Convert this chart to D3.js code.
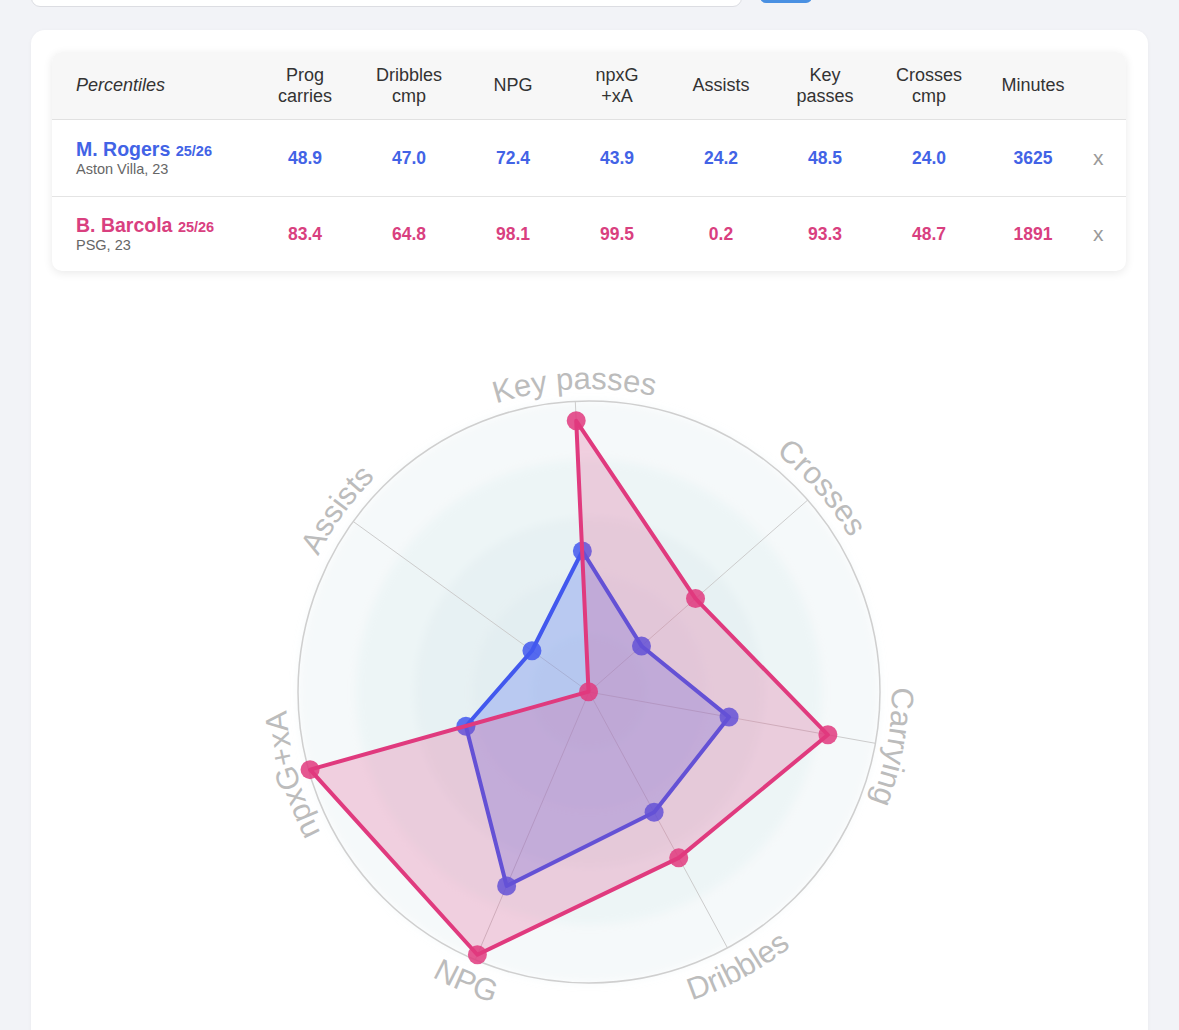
<!DOCTYPE html>
<html>
<head>
<meta charset="utf-8">
<script src="https://cdn.jsdelivr.net/npm/d3@7"></script>
<style>
  body { margin: 0; width: 1179px; height: 1030px; overflow: hidden; position: relative;
         background: #f2f3f7; font-family: "Liberation Sans", Arial, Helvetica, sans-serif; }
  .search { position: absolute; left: 31px; top: -40px; width: 709px; height: 45px; background: #fff;
            border: 1px solid #dcdde2; border-radius: 9px; }
  .btn { position: absolute; left: 760px; top: -30px; width: 52px; height: 33px; background: #4a90e2; border-radius: 6px; }
  .card { position: absolute; left: 31px; top: 30px; width: 1117px; height: 1100px; background: #fff;
          border-radius: 14px; box-shadow: 0 1px 4px rgba(0,0,0,.04); }
  .tbl { position: absolute; left: 52px; top: 52px; width: 1074px; height: 219px; background: #fff;
         border-radius: 10px; box-shadow: 0 2px 10px rgba(0,0,0,.09); overflow: hidden; }
  .row { position: absolute; left: 0; width: 1074px; display: flex; align-items: center; box-sizing: border-box; }
  .head { top: 0; height: 68px; background: #f7f7f7; border-bottom: 1px solid #e1e1e1; color: #333; font-size: 18px; }
  .cell { width: 104px; text-align: center; line-height: 21px; }
  .first { width: 201px; padding-left: 24px; box-sizing: border-box; }
  .xcell { width: 41px; padding-left: 8px; box-sizing: border-box; color: #9a9a9a; font-size: 21px; }
  .val { font-weight: bold; font-size: 17.5px; }
  .name { font-weight: bold; font-size: 19.5px; line-height: 20px; }
  .name span { font-size: 14.5px; }
  .sub { color: #666; font-size: 14.5px; line-height: 16px; }
  svg { position: absolute; left: 0; top: 0; }
</style>
</head>
<body>
<div class="search"></div>
<div class="btn"></div>
<div class="card"></div>
<div class="tbl" id="tbl"></div>
<svg id="radar" width="1179" height="1030"></svg>
<script>
// table data
const headerLines = [["Prog", "carries"], ["Dribbles", "cmp"], ["NPG"], ["npxG", "+xA"], ["Assists"], ["Key", "passes"], ["Crosses", "cmp"], ["Minutes"]];
const players = ["M. Rogers", "B. Barcola"];
const seasons = ["25/26", "25/26"];
const clubs = ["Aston Villa, 23", "PSG, 23"];
const rogersTable = ["48.9", "47.0", "72.4", "43.9", "24.2", "48.5", "24.0", "3625"];
const barcolaTable = ["83.4", "64.8", "98.1", "99.5", "0.2", "93.3", "48.7", "1891"];

// radar data (clockwise from top)
const radarAxes = ["Key passes", "Crosses", "Carrying", "Dribbles", "NPG", "npxG+xA", "Assists"];
const rogersRadar = [48.5, 24.0, 48.9, 47.0, 72.4, 43.9, 24.2];
const barcolaRadar = [93.3, 48.7, 83.4, 64.8, 98.1, 99.5, 0.2];
const ringLevels = [20, 40, 60, 80, 100];

const colors = ["#4263e6", "#d9407f"];
const lineColors = ["#4258ee", "#e03a7e"];

// ---- table ----
const tbl = d3.select("#tbl");
const head = tbl.append("div").attr("class", "row head");
head.append("div").attr("class", "first").style("font-style", "italic").text("Percentiles");
head.selectAll(".hc").data(headerLines).enter().append("div")
    .attr("class", "cell hc")
    .html(d => d.join("<br>"));

const rowsData = [rogersTable, barcolaTable];
rowsData.forEach((vals, i) => {
    const row = tbl.append("div").attr("class", "row")
        .style("top", i === 0 ? "68px" : "145px")
        .style("height", i === 0 ? "77px" : "74px")
        .style("border-bottom", i === 0 ? "1px solid #e4e4e4" : null);
    const first = row.append("div").attr("class", "first");
    first.append("div").attr("class", "name").style("color", colors[i])
        .html(`${players[i]} <span>${seasons[i]}</span>`);
    first.append("div").attr("class", "sub").text(clubs[i]);
    row.selectAll(".val").data(vals).enter().append("div")
        .attr("class", "cell val")
        .style("color", colors[i])
        .text(d => d);
    row.append("div").attr("class", "xcell").text("x");
});

// ---- radar ----
const svg = d3.select("#radar");
const cx = 589, cy = 692, R = 291,
      rot = -2.7 * Math.PI / 180; // chart sits slightly turned

const r = d3.scaleLinear().domain([0, 100]).range([0, R]);
const angle = d3.scaleLinear().domain([0, radarAxes.length]).range([rot, rot + 2 * Math.PI]);

const g = svg.append("g").attr("transform", `translate(${cx},${cy})`);
const defs = svg.append("defs");
defs.append("filter").attr("id", "soft")
    .attr("x", "-10%").attr("y", "-10%").attr("width", "120%").attr("height", "120%")
    .append("feGaussianBlur").attr("stdDeviation", 4);

// background rings
g.append("g").attr("filter", "url(#soft)")
  .selectAll("circle").data(ringLevels.slice().reverse()).enter().append("circle")
    .attr("r", d => r(d))
    .attr("fill", "#d3e2e9")
    .attr("fill-opacity", 0.22);

g.append("circle").attr("r", r(100))
    .attr("fill", "none").attr("stroke", "#cfcfcf").attr("stroke-width", 1.5);

// spokes
g.selectAll(".spoke").data(radarAxes).enter().append("line")
    .attr("class", "spoke")
    .attr("x2", (d, i) => r(100) * Math.sin(angle(i)))
    .attr("y2", (d, i) => -r(100) * Math.cos(angle(i)))
    .attr("stroke", "#cccccc").attr("stroke-width", 1);

const radarLine = d3.lineRadial()
    .angle((d, i) => angle(i))
    .radius(d => r(d))
    .curve(d3.curveLinearClosed);

[rogersRadar, barcolaRadar].forEach((vals, k) => {
    const s = g.append("g");
    s.append("path").attr("d", radarLine(vals))
        .attr("fill", k === 0 ? "#4a6cf0" : "#e03a7e")
        .attr("fill-opacity", k === 0 ? 0.28 : 0.22)
        .attr("stroke", lineColors[k]).attr("stroke-width", 4)
        .attr("stroke-linejoin", "round");
    s.selectAll("circle").data(vals).enter().append("circle")
        .attr("cx", (d, i) => r(d) * Math.sin(angle(i)))
        .attr("cy", (d, i) => -r(d) * Math.cos(angle(i)))
        .attr("r", 9.5)
        .attr("fill", lineColors[k]).attr("fill-opacity", 0.85);
});

// curved axis labels
const pt = (a, rad) => [cx + rad * Math.sin(a), cy - rad * Math.cos(a)];
radarAxes.forEach((name, i) => {
    const a = angle(i);
    const flip = Math.cos(a) < -0.5;
    const rad = flip ? 325 : 303;
    const p0 = pt(flip ? a + Math.PI / 2 : a - Math.PI / 2, rad),
          p1 = pt(flip ? a - Math.PI / 2 : a + Math.PI / 2, rad);
    defs.append("path").attr("id", "lbl" + i)
        .attr("d", `M${p0[0]},${p0[1]} A${rad},${rad} 0 0 ${flip ? 0 : 1} ${p1[0]},${p1[1]}`);
    svg.append("text")
        .attr("font-size", 31).attr("fill", "#bcbcbc")
        .attr("font-family", "'Liberation Sans', Arial, sans-serif")
      .append("textPath")
        .attr("href", "#lbl" + i)
        .attr("startOffset", "50%").attr("text-anchor", "middle")
        .text(name);
});
</script>
</body>
</html>
